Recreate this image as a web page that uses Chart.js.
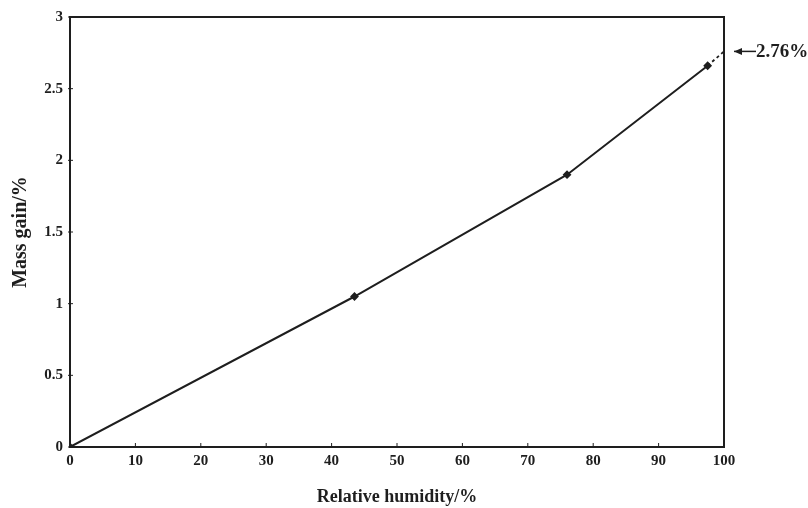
<!DOCTYPE html>
<html>
<head>
<meta charset="utf-8">
<script src="https://cdn.jsdelivr.net/npm/chart.js@4.4.1/dist/chart.umd.min.js"></script>
<style>
  html, body { margin: 0; padding: 0; background: #fff; }
  #wrap { width: 808px; height: 508px; }
</style>
</head>
<body>
<div id="wrap"><canvas id="chart-mass-gain"></canvas></div>
<script>
// measured sorption points
var humidity = [0, 43.5, 76, 97.5];
var massGain = [0, 1.05, 1.9, 2.66];

// extrapolated end value at 100 % RH
var endHumidity = 100;
var endGain = 2.76;
var endLabel = "2.76%";

var xTicks = [0, 10, 20, 30, 40, 50, 60, 70, 80, 90, 100];
var yTicks = [0, 0.5, 1, 1.5, 2, 2.5, 3];

var ink = '#1e1e1e';
var serif = "'Liberation Serif', 'DejaVu Serif', serif";

var measured = humidity.map(function (h, i) { return { x: h, y: massGain[i] }; });
var extrapolated = [
  { x: humidity[humidity.length - 1], y: massGain[massGain.length - 1] },
  { x: endHumidity, y: endGain }
];

// frame, inner tick marks and the end-value arrow
var framePlugin = {
  id: 'frame',
  afterDraw: function (chart) {
    var ctx = chart.ctx;
    var a = chart.chartArea;
    var xs = chart.scales.x, ys = chart.scales.y;
    ctx.save();
    ctx.strokeStyle = ink;
    ctx.lineWidth = 2;
    ctx.strokeRect(a.left, a.top, a.right - a.left, a.bottom - a.top);

    ctx.lineWidth = 1;
    ctx.beginPath();
    xTicks.forEach(function (v) {
      var px = xs.getPixelForValue(v);
      ctx.moveTo(px, a.bottom);
      ctx.lineTo(px, a.bottom - 4);
    });
    yTicks.forEach(function (v) {
      var py = ys.getPixelForValue(v);
      ctx.moveTo(a.left - 2, py);
      ctx.lineTo(a.left + 3, py);
    });
    ctx.stroke();

    var ay = ys.getPixelForValue(endGain);
    var ax = xs.getPixelForValue(endHumidity) + 10;
    ctx.lineWidth = 1.5;
    ctx.beginPath();
    ctx.moveTo(ax, ay);
    ctx.lineTo(ax + 22, ay);
    ctx.stroke();
    ctx.fillStyle = ink;
    ctx.beginPath();
    ctx.moveTo(ax, ay);
    ctx.lineTo(ax + 8, ay - 3.5);
    ctx.lineTo(ax + 8, ay + 3.5);
    ctx.closePath();
    ctx.fill();

    ctx.font = "bold 19px " + serif;
    ctx.textAlign = 'left';
    ctx.textBaseline = 'middle';
    ctx.fillText(endLabel, ax + 22, ay + 1);
    ctx.restore();
  }
};

var ctx = document.getElementById("chart-mass-gain").getContext("2d");
var chart = new Chart(ctx, {
  type: 'scatter',
  data: {
    datasets: [{
      data: measured,
      showLine: true,
      borderColor: ink,
      backgroundColor: ink,
      borderWidth: 2,
      pointStyle: 'rectRot',
      pointRadius: 3,
      pointHoverRadius: 3
    },
    {
      data: extrapolated,
      showLine: true,
      borderColor: ink,
      borderWidth: 1.8,
      borderDash: [3, 3],
      pointRadius: 0
    }]
  },
  options: {
    responsive: true,
    maintainAspectRatio: false,
    animation: false,
    layout: { padding: { top: 17, right: 84, left: 0, bottom: 0 } },
    plugins: {
      legend: { display: false },
      tooltip: { enabled: false }
    },
    scales: {
      x: {
        type: 'linear',
        min: 0,
        max: 100,
        afterBuildTicks: function (s) { s.ticks = xTicks.map(function (v) { return { value: v }; }); },
        afterFit: function (s) { s.height = 61; },
        grid: { display: false },
        border: { display: false },
        ticks: { color: ink, padding: -3, font: { family: serif, size: 15, weight: 'bold' } },
        title: {
          display: true,
          text: 'Relative humidity/%',
          color: ink,
          padding: { top: 0, bottom: 0 },
          font: { family: serif, size: 18, weight: 'bold' }
        }
      },
      y: {
        type: 'linear',
        min: 0,
        max: 3,
        afterBuildTicks: function (s) { s.ticks = yTicks.map(function (v) { return { value: v }; }); },
        afterFit: function (s) { s.width = 70; },
        grid: { display: false },
        border: { display: false },
        ticks: {
          color: ink,
          padding: -1,
          font: { family: serif, size: 15, weight: 'bold' },
          callback: function (v) { return String(v); }
        },
        title: {
          display: true,
          text: 'Mass gain/%',
          color: ink,
          padding: { top: 9, bottom: 0 },
          font: { family: serif, size: 20, weight: 'bold' }
        }
      }
    }
  },
  plugins: [framePlugin]
});
</script>
</body>
</html>
